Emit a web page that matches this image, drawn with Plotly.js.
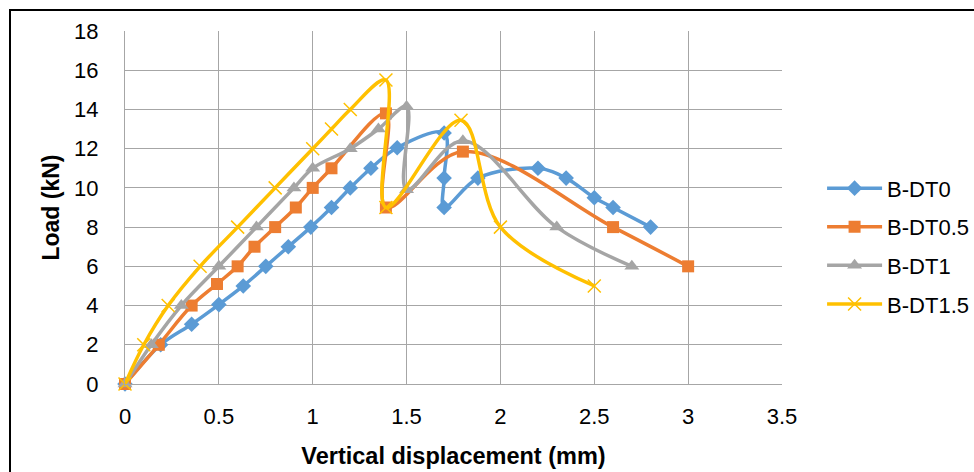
<!DOCTYPE html>
<html>
<head>
<meta charset="utf-8">
<script src="https://cdn.plot.ly/plotly-3.0.1.min.js"></script>
<style>
html,body{margin:0;padding:0;background:#fff;}
#wrap{position:relative;width:974px;height:472px;}
#chart{width:974px;height:472px;}
#frame{position:absolute;left:9px;top:9px;width:980px;height:480px;border-left:2px solid #000;border-top:2px solid #000;pointer-events:none;}
</style>
</head>
<body>
<div id="wrap"><div id="chart"></div><div id="frame"></div></div>
<script>
const seriesNames = ["B-DT0", "B-DT0.5", "B-DT1", "B-DT1.5"];
const dt0_x = [0, 0.19, 0.355, 0.50, 0.63, 0.75, 0.87, 0.99, 1.10, 1.20, 1.31, 1.45, 1.70, 1.70, 1.70, 1.88, 2.20, 2.35, 2.50, 2.60, 2.80];
const dt0_y = [0, 2.0, 3.05, 4.05, 5.0, 6.0, 7.0, 8.0, 9.0, 10.0, 11.0, 12.05, 12.8, 10.5, 9.0, 10.5, 11.0, 10.5, 9.5, 9.0, 8.0];
const dt05_x = [0, 0.18, 0.355, 0.49, 0.60, 0.69, 0.80, 0.91, 1.00, 1.10, 1.39, 1.39, 1.80, 2.60, 3.00];
const dt05_y = [0, 2.0, 4.0, 5.1, 6.0, 7.0, 8.0, 9.0, 10.0, 11.0, 13.8, 9.0, 11.85, 8.0, 6.0];
const dt1_x = [0, 0.14, 0.30, 0.50, 0.70, 0.90, 1.00, 1.20, 1.35, 1.50, 1.50, 1.80, 2.30, 2.70];
const dt1_y = [0, 2.0, 4.0, 6.0, 8.0, 10.0, 11.0, 12.0, 13.0, 14.15, 9.9, 12.4, 8.0, 6.0];
const dt15_x = [0, 0.10, 0.23, 0.40, 0.60, 0.80, 1.00, 1.10, 1.20, 1.39, 1.39, 1.79, 2.00, 2.50];
const dt15_y = [0, 2.0, 4.0, 6.0, 8.0, 10.0, 12.0, 13.0, 14.0, 15.5, 9.0, 13.45, 8.0, 5.0];
const xTicks = [0, 0.5, 1, 1.5, 2, 2.5, 3, 3.5];
const yTicks = [0, 2, 4, 6, 8, 10, 12, 14, 16, 18];

const colors = ["#5B9BD5", "#ED7D31", "#A5A5A5", "#FFC000"];
const xs = [dt0_x, dt05_x, dt1_x, dt15_x];
const ys = [dt0_y, dt05_y, dt1_y, dt15_y];
const markers = [
  {symbol: "diamond", size: 12},
  {symbol: "square", size: 12},
  {symbol: "triangle-up", size: 13},
  {symbol: "x-thin", size: 13}
];

const traces = seriesNames.map((n, i) => ({
  type: "scatter",
  mode: "lines+markers",
  name: n,
  legendgroup: "g" + i,
  x: xs[i],
  y: ys[i],
  line: {color: colors[i], width: 3.5, shape: "spline", smoothing: 1},
  marker: Object.assign({color: colors[i], line: {color: colors[i], width: i === 3 ? 1.5 : 0}}, markers[i]),
  cliponaxis: false
}));

const font = "Liberation Sans, Arial, sans-serif";
const layout = {
  width: 974, height: 472,
  margin: {l: 125, r: 192, t: 31, b: 88, autoexpand: false},
  paper_bgcolor: "#fff", plot_bgcolor: "#fff",
  font: {family: font, size: 21, color: "#000"},
  showlegend: true,
  legend: {x: 1.061, xanchor: "left", y: 0.39, yanchor: "middle", traceorder: "grouped", tracegroupgap: 7,
           itemwidth: 55,
           font: {family: font, size: 22, color: "#000"}, bgcolor: "rgba(0,0,0,0)"},
  xaxis: {
    range: [0, 3.5], tickvals: xTicks, ticktext: xTicks.map(String),
    showgrid: true, gridcolor: "#A6A6A6", gridwidth: 1,
    zeroline: false, showline: true, linecolor: "#A6A6A6", linewidth: 1,
    ticks: "", ticklabelstandoff: 13, automargin: false,
    tickfont: {family: font, size: 22, color: "#000"},
    title: {text: "<b>Vertical displacement (mm)</b>", font: {family: font, size: 23.5, color: "#000"}, standoff: 19}
  },
  yaxis: {
    range: [0, 18], tickvals: yTicks, ticktext: yTicks.map(String),
    showgrid: true, gridcolor: "#A6A6A6", gridwidth: 1,
    zeroline: false, showline: true, linecolor: "#A6A6A6", linewidth: 1,
    ticks: "", ticklabelstandoff: 21, automargin: false,
    tickfont: {family: font, size: 22, color: "#000"},
    title: {text: "<b>Load (kN)</b>", font: {family: font, size: 23, color: "#000"}, standoff: 8}
  }
};

Plotly.newPlot("chart", traces, layout, {displayModeBar: false, staticPlot: true});
</script>
</body>
</html>
